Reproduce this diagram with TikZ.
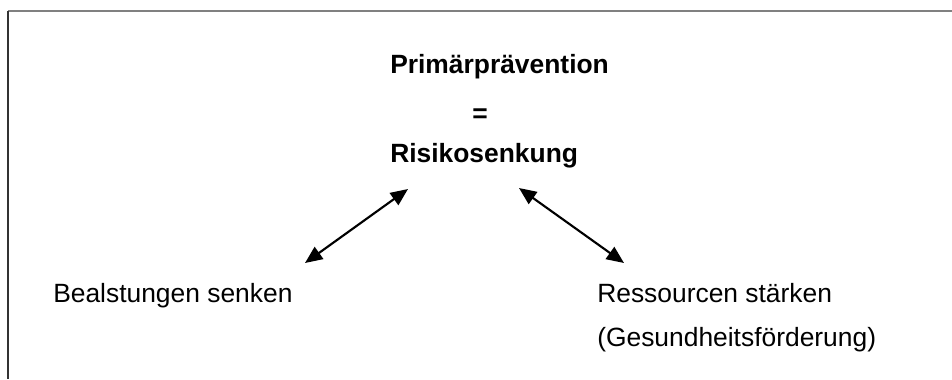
\documentclass[tikz,border=0pt]{standalone}
\usepackage{fontspec}
\setmainfont{Liberation Sans}
\usetikzlibrary{arrows.meta, positioning, calc}
\tikzset{
	label/.style={inner sep=0pt, anchor=base west, font=\fontsize{19.8}{24}\selectfont},
	title/.style={label, font=\fontsize{19.8}{24}\selectfont\bfseries},
	link/.style={line width=1.6pt, {Triangle[length=13pt, width=11pt]}-{Triangle[length=13pt, width=11pt]}}
}
\begin{document}
\begin{tikzpicture}[x=0.75pt, y=-0.75pt]
		\useasboundingbox (0,0) rectangle (952,379);
		\draw[line width=1.5pt, gray] (8,11) -- (952,11);
		\draw[line width=1.5pt, black!80] (8,11) -- (8,379);
		\node[title] (prim) at (390,73) {Primärprävention};
		\node[title, anchor=base] (eq) at (480,122) {=};
		\node[title] (risk) at (390,162) {Risikosenkung};
		\node[label] (bel) at (53,302) {Bealstungen senken};
		\node[label] (res) at (597,302) {Ressourcen stärken};
		\node[label] (ges) at ($(res.base west)+(0,44)$) {(Gesundheitsförderung)};
		\coordinate (l1) at (305,263);
		\coordinate (l2) at (408,189);
		\coordinate (r1) at (519,188);
		\coordinate (r2) at (624,263);
		\draw[link] (l1) -- (l2);
		\draw[link] (r1) -- (r2);
\end{tikzpicture}
\end{document}
